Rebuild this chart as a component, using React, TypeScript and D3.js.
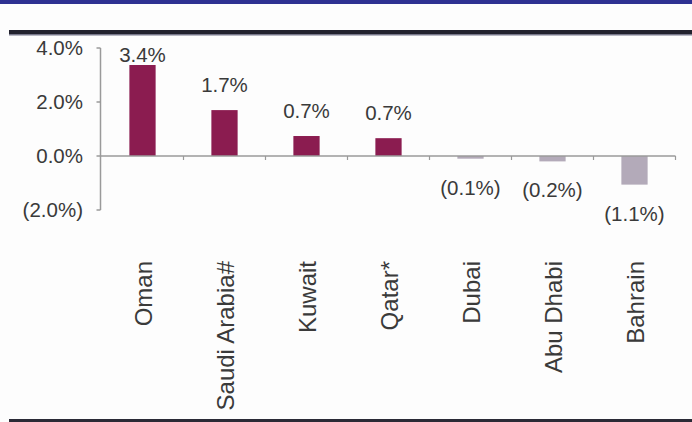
import React from "react";
import * as d3 from "d3";

const categories = ["Oman", "Saudi Arabia#", "Kuwait", "Qatar*", "Dubai", "Abu Dhabi", "Bahrain"];
const values = [3.37, 1.7, 0.74, 0.66, -0.1, -0.2, -1.06];
const yTicks = [4, 2, 0, -2];

const W = 692;
const H = 422;
const POS = "#8b1c50";
const NEG = "#b3aab9";
const AXIS = "#9a9a9a";
const TEXT = "#3a3a3a";
const FONT = "'Liberation Sans', Arial, Helvetica, sans-serif";

const fmtPct = (v: number) => (v < 0 ? `(${Math.abs(v).toFixed(1)}%)` : `${v.toFixed(1)}%`);

export default function App() {
  const x = d3.scaleBand<string>().domain(categories).range([101.5, 675.5]).paddingInner(0.68).paddingOuter(0.34);
  const y = d3.scaleLinear().domain([-2, 4]).range([210, 48]);
  const step = x.step();
  const x0 = 101.5;
  const axisX = 100.5;

  return (
    <svg width={W} height={H} style={{ position: "absolute", left: 0, top: 0, display: "block", background: "#fdfdfd" }}>
      {/* header bars */}
      <rect x={0} y={0} width={W} height={4} fill="#2e3192" />
      <rect x={9} y={30} width={W - 9} height={4} fill="#22222e" />
      <rect x={9} y={34} width={W - 9} height={1.5} fill="#77778a" />
      <rect x={9} y={419} width={W - 9} height={3} fill="#2a2a36" />

      {/* y axis */}
      <line x1={axisX} x2={axisX} y1={y(4)} y2={y(-2)} stroke={AXIS} strokeWidth={1.5} />
      {yTicks.map((t) => (
        <g key={t}>
          <line x1={axisX - 4} x2={axisX} y1={y(t)} y2={y(t)} stroke={AXIS} strokeWidth={1.5} />
          <text x={83} y={y(t)} dy="0.35em" textAnchor="end" fontFamily={FONT} fontSize={20.5} fill={TEXT}>
            {fmtPct(t)}
          </text>
        </g>
      ))}

      {/* bars */}
      {categories.map((c, i) => {
        const v = values[i];
        const top = y(Math.max(0, v));
        const bot = y(Math.min(0, v));
        return (
          <rect key={c} x={x(c)} y={top} width={x.bandwidth()} height={bot - top} fill={v >= 0 ? POS : NEG} />
        );
      })}

      {/* zero line and category ticks */}
      <line x1={axisX} x2={x0 + step * categories.length} y1={y(0)} y2={y(0)} stroke={AXIS} strokeWidth={1.5} />
      {d3.range(1, categories.length + 1).map((k) => (
        <line key={k} x1={x0 + step * k} x2={x0 + step * k} y1={y(0)} y2={y(0) + 4} stroke={AXIS} strokeWidth={1.2} />
      ))}

      {/* value labels */}
      {categories.map((c, i) => {
        const v = values[i];
        const cx = (x(c) as number) + x.bandwidth() / 2;
        const ly = v >= 0 ? Math.max(y(v) - 18, 62) : y(v) + 36;
        return (
          <text key={c} x={cx} y={ly} textAnchor="middle" fontFamily={FONT} fontSize={20.5} fill={TEXT}>
            {fmtPct(v)}
          </text>
        );
      })}

      {/* category labels */}
      {categories.map((c) => {
        const cx = (x(c) as number) + x.bandwidth() / 2 + 1;
        return (
          <text
            key={c}
            transform={`translate(${cx},261) rotate(-90)`}
            dy="0.35em"
            textAnchor="end"
            fontFamily={FONT}
            fontSize={24}
            fill={TEXT}
          >
            {c}
          </text>
        );
      })}
    </svg>
  );
}
